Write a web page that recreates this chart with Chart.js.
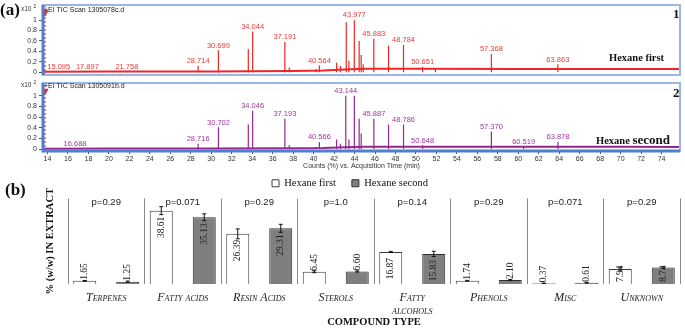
<!DOCTYPE html>
<html>
<head>
<meta charset="utf-8">
<script src="https://cdn.jsdelivr.net/npm/chart.js@4.4.1/dist/chart.umd.min.js"></script>
<style>
  body { margin: 0; width: 685px; height: 328px; position: relative; overflow: hidden; background: #fff; }
  canvas { position: absolute; left: 0; }
  .lbl { position: absolute; white-space: nowrap; line-height: 1; color: #111; }
  .serif { font-family: "Liberation Serif", serif; font-weight: bold; }
  .sans { font-family: "Liberation Sans", Arial, sans-serif; color: #333; }
</style>
</head>
<body>
<canvas id="scan1" width="685" height="80" style="top:0"></canvas>
<canvas id="scan2" width="685" height="92" style="top:78px"></canvas>
<canvas id="bars" width="685" height="178" style="top:150px"></canvas>

<div class="lbl serif" style="left:0;top:1px;font-size:17px">(a)</div>
<div class="lbl sans" style="left:21px;top:6px;font-size:6.5px">x10<span style="position:relative;top:-3px;font-size:5px;margin-left:2px">2</span></div>
<div class="lbl sans" style="left:44px;top:5.5px;font-size:7px;color:#222">+EI TIC Scan 1305078c.d</div>
<div class="lbl serif" style="left:673px;top:6.5px;font-size:13px">1</div>
<div class="lbl serif" style="left:609px;top:52.5px;font-size:10.5px">Hexane first</div>

<div class="lbl sans" style="left:21px;top:82px;font-size:6.5px">x10<span style="position:relative;top:-3px;font-size:5px;margin-left:2px">2</span></div>
<div class="lbl sans" style="left:44px;top:81.5px;font-size:7px;color:#222">+EI TIC Scan 1305091b.d</div>
<div class="lbl serif" style="left:673px;top:85.5px;font-size:13px">2</div>
<div class="lbl serif" style="left:596px;top:131px"><span style="font-size:10.5px">Hexane </span><span style="font-size:13px">second</span></div>

<div class="lbl serif" style="left:5px;top:181px;font-size:17px">(b)</div>

<script>
// ---- (a) chromatograms ----
var timeTicks = [14, 16, 18, 20, 22, 24, 26, 28, 30, 32, 34, 36, 38, 40, 42, 44,
                 46, 48, 50, 52, 54, 56, 58, 60, 62, 64, 66, 68, 70, 72, 74];
var countTicks = [0, 0.2, 0.4, 0.6, 0.8, 1];

var firstTimes  = [15.095, 17.897, 21.758, 28.714, 30.699, 33.62, 34.044, 37.191, 37.62, 40.25, 40.564,
                   42.25, 42.62, 43.19, 43.45, 43.977, 44.45, 44.65, 44.85, 45.883, 47.32, 48.784,
                   50.651, 51.9, 57.368, 63.863];
var firstCounts = [0.01, 0.01, 0.01, 0.12, 0.42, 0.44, 0.78, 0.58, 0.09, 0.06, 0.13,
                   0.18, 0.12, 0.96, 0.22, 1.0, 0.6, 0.33, 0.15, 0.64, 0.51, 0.52,
                   0.1, 0.07, 0.35, 0.15];
var firstLabels = ['15.095', '17.897', '21.758', '28.714', '30.699', '', '34.044', '37.191', '', '', '40.564',
                   '', '', '', '', '43.977', '', '', '', '45.883', '', '48.784',
                   '50.651', '', '57.368', '63.863'];
var firstBaseTimes  = [13.6, 20, 30, 38, 41, 43, 45, 50, 60, 70, 75.8];
var firstBaseCounts = [0.01, 0.012, 0.015, 0.02, 0.03, 0.05, 0.065, 0.065, 0.06, 0.06, 0.06];

var secondTimes  = [16.688, 28.716, 30.702, 33.62, 34.046, 37.193, 37.62, 40.25, 40.566, 42.25, 42.62,
                    43.144, 43.45, 43.98, 44.45, 44.65, 45.887, 47.32, 48.786, 50.648, 57.370, 60.519, 63.878];
var secondCounts = [0.01, 0.1, 0.41, 0.46, 0.72, 0.57, 0.07, 0.04, 0.13, 0.18, 0.1,
                    1.0, 0.18, 1.0, 0.57, 0.29, 0.57, 0.46, 0.46, 0.07, 0.33, 0.04, 0.13];
var secondLabels = ['16.688', '28.716', '30.702', '', '34.046', '37.193', '', '', '40.566', '', '',
                    '43.144', '', '', '', '', '45.887', '', '48.786', '50.648', '57.370', '60.519', '63.878'];
var secondBaseTimes  = [13.6, 20, 30, 38, 41, 43, 45, 50, 60, 70, 75.8];
var secondBaseCounts = [0.005, 0.008, 0.01, 0.015, 0.02, 0.035, 0.045, 0.045, 0.045, 0.045, 0.04];

var markerTime = 13.75;

// ---- (b) compound types ----
var compoundTypes = ['Terpenes', 'Fatty acids', 'Resin Acids', 'Sterols', ['Fatty', 'alcohols'], 'Phenols', 'Misc', 'Unknown'];
var hexaneFirst  = [1.65, 38.61, 26.39, 6.45, 16.87, 1.74, 0.37, 7.94];
var hexaneSecond = [1.25, 35.13, 29.31, 6.60, 15.83, 2.10, 0.61, 8.74];
var firstError   = [0.2, 2.1, 2.6, 0.5, 0.3, 0.2, 0.1, 1.0];
var secondError  = [0.3, 1.8, 2.1, 0.3, 1.4, 0.3, 0.1, 0.5];
var pValues = ['p=0.29', 'p=0.071', 'p=0.29', 'p=1.0', 'p=0.14', 'p=0.29', 'p=0.071', 'p=0.29'];

var SANS = '"Liberation Sans", Arial, sans-serif';
var SERIF = '"Liberation Serif", "Times New Roman", serif';

function spikes(times, counts) {
  var pts = [];
  times.forEach(function (t, i) {
    pts.push({x: t, y: 0}, {x: t, y: counts[i]}, {x: t, y: null});
  });
  return pts;
}
function pairs(xs, ys) {
  return xs.map(function (x, i) { return {x: x, y: ys[i]}; });
}

// blue frame around a chromatogram panel
var frame = {
  id: 'frame',
  afterDraw: function (chart, args, opts) {
    var a = chart.chartArea, ctx = chart.ctx;
    ctx.save();
    ctx.strokeStyle = '#9ab6e6';
    ctx.lineWidth = 2;
    ctx.strokeRect(a.left, a.top, a.right - a.left, a.bottom - a.top);
    ctx.strokeStyle = '#4f7fd0';
    ctx.lineWidth = 3;
    ctx.beginPath();
    ctx.moveTo(a.left, a.top);
    ctx.lineTo(a.left, a.bottom);
    if (opts.axis) ctx.lineTo(a.right, a.bottom);
    ctx.stroke();
    ctx.restore();
  }
};

var peakLabels = {
  id: 'peakLabels',
  afterDatasetsDraw: function (chart, args, opts) {
    var ctx = chart.ctx, xs = chart.scales.x, ys = chart.scales.y;
    ctx.save();
    ctx.font = '7.5px ' + SANS;
    ctx.fillStyle = opts.color;
    ctx.textAlign = 'center';
    ctx.textBaseline = 'bottom';
    opts.labels.forEach(function (lab, i) {
      if (lab) ctx.fillText(lab, xs.getPixelForValue(opts.times[i]), ys.getPixelForValue(opts.counts[i]) - 1);
    });
    ctx.restore();
  }
};

function scanChart(id, cfg) {
  return new Chart(document.getElementById(id), {
    type: 'line',
    data: {
      datasets: [
        { data: spikes(cfg.times, cfg.counts), borderColor: cfg.color, borderWidth: 1.2, pointRadius: 0, spanGaps: false },
        { data: pairs(cfg.baseTimes, cfg.baseCounts), borderColor: cfg.color, borderWidth: 2, pointRadius: 0 },
        { data: [{x: markerTime, y: cfg.yMin}, {x: markerTime, y: cfg.yMax}], borderColor: '#e52b2b', borderWidth: 1.2, borderDash: [2, 2], pointRadius: 0 },
        { data: [{x: markerTime, y: cfg.markY}], showLine: false, pointStyle: 'triangle', rotation: 180, pointRadius: 3.5,
          pointBackgroundColor: '#e52b2b', pointBorderColor: '#e52b2b' }
      ]
    },
    options: {
      responsive: false,
      animation: false,
      layout: { padding: { top: 4, right: 2, left: 0, bottom: 0 } },
      plugins: {
        legend: { display: false },
        tooltip: { enabled: false },
        frame: { axis: cfg.axis },
        peakLabels: { times: cfg.times, counts: cfg.counts, labels: cfg.labels, color: cfg.labelColor }
      },
      scales: {
        x: {
          type: 'linear', min: 13.56, max: 75.8,
          afterBuildTicks: function (s) { s.ticks = timeTicks.map(function (v) { return {value: v}; }); },
          afterFit: function (s) { s.height = cfg.axisHeight; },
          border: { display: false },
          grid: { display: cfg.axis, drawOnChartArea: false, tickLength: 3, color: '#555' },
          ticks: { display: cfg.axis, autoSkip: false, maxRotation: 0, padding: 1, color: '#333',
                   font: { family: SANS, size: 7 }, callback: function (v) { return v; } },
          title: { display: cfg.axis, text: 'Counts (%) vs. Acquisition Time (min)', color: '#333',
                   font: { family: SANS, size: 7 }, padding: { top: 2, bottom: 0 } }
        },
        y: {
          min: cfg.yMin, max: cfg.yMax,
          afterBuildTicks: function (s) { s.ticks = countTicks.map(function (v) { return {value: v}; }); },
          afterFit: function (s) { s.width = 43; s.paddingTop = 0; s.paddingBottom = 0; },
          border: { display: false },
          grid: { drawOnChartArea: false, tickLength: 4, color: '#555' },
          ticks: { padding: 2, color: '#333', font: { family: SANS, size: 7 }, callback: function (v) { return v; } }
        }
      }
    },
    plugins: [frame, peakLabels]
  });
}

scanChart('scan1', {
  times: firstTimes, counts: firstCounts, labels: firstLabels,
  baseTimes: firstBaseTimes, baseCounts: firstBaseCounts,
  color: '#f02626', labelColor: '#ec3b3b',
  yMin: -0.0545, yMax: 1.291, markY: 1.145, axis: false, axisHeight: 2
});
scanChart('scan2', {
  times: secondTimes, counts: secondCounts, labels: secondLabels,
  baseTimes: secondBaseTimes, baseCounts: secondBaseCounts,
  color: '#93288f', labelColor: '#a2369e',
  yMin: -0.037, yMax: 1.2407, markY: 1.09, axis: true, axisHeight: 19
});

// ---- (b) bar chart extras: error bars, value labels, p-values ----
var barExtras = {
  id: 'barExtras',
  afterDatasetsDraw: function (chart) {
    var ctx = chart.ctx, ys = chart.scales.y, xs = chart.scales.x, a = chart.chartArea;
    var errs = [firstError, secondError];
    ctx.save();
    ctx.strokeStyle = '#111';
    ctx.lineWidth = 1;
    chart.data.datasets.forEach(function (ds, di) {
      chart.getDatasetMeta(di).data.forEach(function (bar, i) {
        var v = ds.data[i], e = errs[di][i];
        var y1 = ys.getPixelForValue(v - e), y2 = ys.getPixelForValue(v + e);
        ctx.beginPath();
        ctx.moveTo(bar.x, y1); ctx.lineTo(bar.x, y2);
        ctx.moveTo(bar.x - 2, y1); ctx.lineTo(bar.x + 2, y1);
        ctx.moveTo(bar.x - 2, y2); ctx.lineTo(bar.x + 2, y2);
        ctx.stroke();

        // rotated value label
        var txt = v.toFixed(2);
        ctx.font = '9.5px ' + SERIF;
        var tw = ctx.measureText(txt).width;
        var h = bar.base - bar.y, anchor, align;
        if (h >= tw + 8) { anchor = bar.y + 6; align = 'right'; }
        else if (h >= 14) { anchor = bar.base - 2; align = 'left'; }
        else { anchor = bar.y - 1; align = 'left'; }
        ctx.save();
        ctx.translate(bar.x, anchor);
        ctx.rotate(-Math.PI / 2);
        ctx.fillStyle = '#222';
        ctx.textAlign = align;
        ctx.textBaseline = 'middle';
        ctx.fillText(txt, 0, 0);
        ctx.restore();
      });
    });
    ctx.font = '9.5px ' + SANS;
    ctx.fillStyle = '#222';
    ctx.textAlign = 'center';
    ctx.textBaseline = 'middle';
    pValues.forEach(function (p, i) {
      ctx.fillText(p, xs.getPixelForValue(i), a.top + 3.5);
    });
    ctx.restore();
  }
};

new Chart(document.getElementById('bars'), {
  type: 'bar',
  data: {
    labels: compoundTypes,
    datasets: [
      { label: 'Hexane first', data: hexaneFirst, backgroundColor: '#ffffff', borderColor: '#3c3c3c', borderWidth: 1,
        categoryPercentage: 1.124, barPercentage: 0.535 },
      { label: 'Hexane second', data: hexaneSecond, backgroundColor: '#7f7f7f', borderColor: '#2e2e2e', borderWidth: 1,
        categoryPercentage: 1.124, barPercentage: 0.535 }
    ]
  },
  options: {
    responsive: false,
    animation: false,
    layout: { padding: { top: 12, left: 20, right: 5, bottom: 0 } },
    plugins: {
      tooltip: { enabled: false },
      legend: {
        position: 'top',
        labels: { boxWidth: 7, boxHeight: 7, padding: 16, color: '#111', font: { family: SERIF, size: 10.5 } }
      }
    },
    scales: {
      x: {
        afterFit: function (s) { s.height = 44; },
        border: { display: false },
        grid: { display: true, offset: true, drawTicks: false, color: '#8a8a8a' },
        ticks: { padding: 8, color: '#222', maxRotation: 0, autoSkip: false,
                 font: { family: SERIF, size: 12, style: 'italic', weight: 'small-caps', lineHeight: 1.05 } },
        title: { display: true, text: 'COMPOUND TYPE', color: '#111', padding: 0,
                 font: { family: SERIF, size: 10.5, weight: 'bold', lineHeight: 1 } }
      },
      y: {
        min: 0, max: 45,
        afterFit: function (s) { s.width = 48; },
        border: { display: false },
        grid: { display: false },
        ticks: { display: false },
        title: { display: true, text: '% (w/w) IN EXTRACT', color: '#111', padding: { top: 23.7, bottom: 0 },
                 font: { family: SERIF, size: 10.5, weight: 'bold' } }
      }
    }
  },
  plugins: [barExtras]
});
</script>
</body>
</html>
